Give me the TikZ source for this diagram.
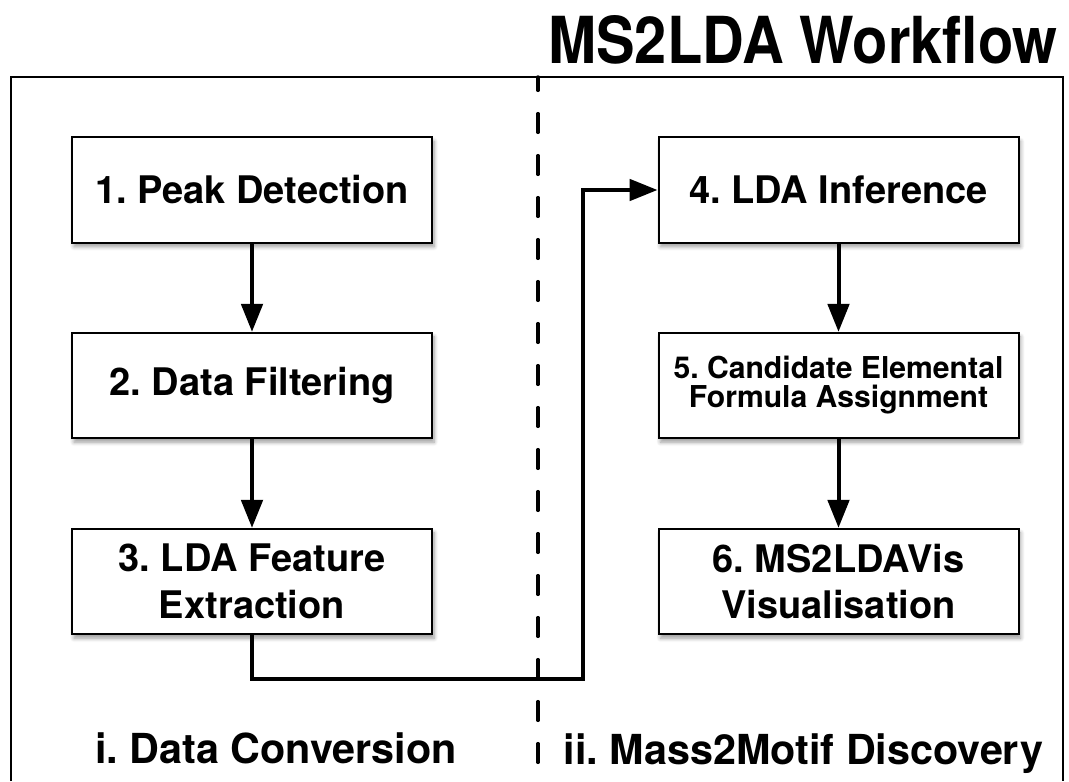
\documentclass[tikz,border=0pt]{standalone}
\usepackage{fontspec}
\usepackage{graphicx}
\setmainfont{TeX Gyre Heros}
\usetikzlibrary{arrows.meta,shadows.blur}
\frenchspacing
\begin{document}
\begin{tikzpicture}[x=0.75pt,y=-0.75pt,
  stepbox/.style={draw=black, line width=1.5pt, fill=white,
    minimum width=270pt, minimum height=79pt, inner sep=0pt, align=center,
    font=\bfseries\fontsize{28.5}{35}\selectfont,
    blur shadow={shadow xshift=1.5pt, shadow yshift=-3pt, shadow blur steps=6, shadow opacity=40, shadow blur radius=3pt}},
  smalltext/.style={font=\bfseries\fontsize{22.6}{21.8}\selectfont},
  flow/.style={line width=3pt, -{Triangle[length=21pt,width=16pt]}},
  link/.style={line width=3pt, line join=miter},
  frameline/.style={line width=1.5pt},
  divider/.style={line width=2.6pt, line cap=round, dash pattern=on 14pt off 17.5pt, dash phase=4pt},
  section/.style={anchor=base, font=\bfseries\fontsize{31}{37}\selectfont}
]
\useasboundingbox (0,0) rectangle (1069,781);

% frame
\coordinate (fbl) at (11,781);
\coordinate (ftl) at (11,77);
\coordinate (ftr) at (1063,77);
\coordinate (fbr) at (1063,781);
\draw[frameline] (fbl) -- (ftl) -- (ftr) -- (fbr);

% divider
\coordinate (dtop) at (538,77);
\coordinate (dbot) at (538,781);
\draw[divider] (dtop) -- (dbot);

% title
\node[anchor=base] (title) at (803,64) {\resizebox{382pt}{36pt}{\bfseries MS2LDA Workflow}};

% boxes
\node[stepbox] (b1) at (252,190) {1. Peak Detection};
\node[stepbox] (b2) at (252,385.5) {2. Data Filtering};
\node[stepbox] (b3) at (252,581.5) {3. LDA Feature\\Extraction};
\node[stepbox] (b4) at (838.5,190) {4. LDA Inference};
\node[stepbox, smalltext] (b5) at (838.5,385.5) {5. Candidate Elemental\\Formula Assignment};
\node[stepbox] (b6) at (838.5,581.5) {6. MS2LDAVis\\Visualisation};

% arrows
\draw[flow] (b1.south) -- (b2.north);
\draw[flow] (b2.south) -- (b3.north);
\draw[flow] (b4.south) -- (b5.north);
\draw[flow] (b5.south) -- (b6.north);

\coordinate (c1) at (583,679);
\draw[link, -{Triangle[length=21pt,width=16pt]}] (b3.south) |- (c1) |- (b4.west);

% section labels
\node[section] (s1) at (276,763) {i. Data Conversion};
\node[section] (s2) at (803.5,764) {ii. Mass2Motif Discovery};
\end{tikzpicture}
\end{document}
